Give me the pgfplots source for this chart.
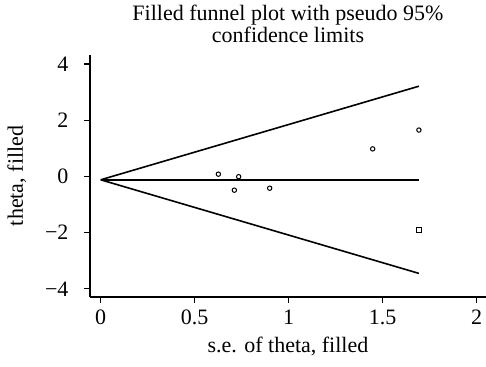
\documentclass[border=0pt]{standalone}
\usepackage{pgfplots}
\pgfplotsset{compat=1.18}
\usepackage{fontspec}
\setmainfont{Liberation Serif}
\begin{document}
\begin{tikzpicture}
\begin{axis}[
 name=ax, at={(0,0)}, anchor=south west,
 scale only axis, width=396pt, height=242pt,
 xmin=-0.057, xmax=2.05, ymin=-4.29, ymax=4.32,
 axis x line*=bottom, axis y line*=left,
 axis line style={line width=1.5pt, -},
 xtick={0,0.5,1,1.5,2}, ytick={-4,-2,0,2,4},
 xticklabels={0,0.5,1,1.5,2}, yticklabels={−4,−2,0,2,4},
 tick align=outside, major tick length=6pt,
 tick style={line width=1.2pt, black},
 /pgf/number format/assume math mode=true,
 ticklabel style={font=\fontsize{22}{24}\selectfont},
 yticklabel style={xshift=-12pt},
 xticklabel style={yshift=-3pt},
 label style={font=\fontsize{22}{24}\selectfont},
 xlabel={s.e. of theta, filled}, ylabel={theta, filled},
 xlabel style={at={(axis description cs:0.5,0)}, anchor=base, yshift=-55pt},
 ylabel style={at={(axis description cs:0,0.5)}, anchor=base, yshift=67pt},
 title={Filled funnel plot with pseudo 95\%\\confidence limits},
 title style={align=center, font=\fontsize{22}{22}\selectfont, at={(axis description cs:0.5,1)}, anchor=north, inner sep=0pt, yshift=44pt},
 clip=false,
]
\addplot[black, line width=1.6pt] coordinates {(0,-0.12) (1.693,3.21)};
\addplot[black, line width=1.6pt] coordinates {(0,-0.12) (1.693,-3.45)};
\addplot[black, line width=1.6pt] coordinates {(0,-0.12) (1.693,-0.12)};
\addplot[only marks, mark=o, mark size=2.2pt, mark options={line width=1pt, black}] coordinates {
(0.626,0.08) (0.734,-0.01) (0.711,-0.49) (0.899,-0.42) (1.447,0.98) (1.693,1.65)};
\addplot[only marks, mark=square, mark size=2.5pt, mark options={line width=1pt, black}] coordinates {
(1.693,-1.90)};
\end{axis}
\pgfresetboundingbox
\path[use as bounding box] (-90pt,-69pt) rectangle (396pt,297pt);
\end{tikzpicture}
\end{document}
